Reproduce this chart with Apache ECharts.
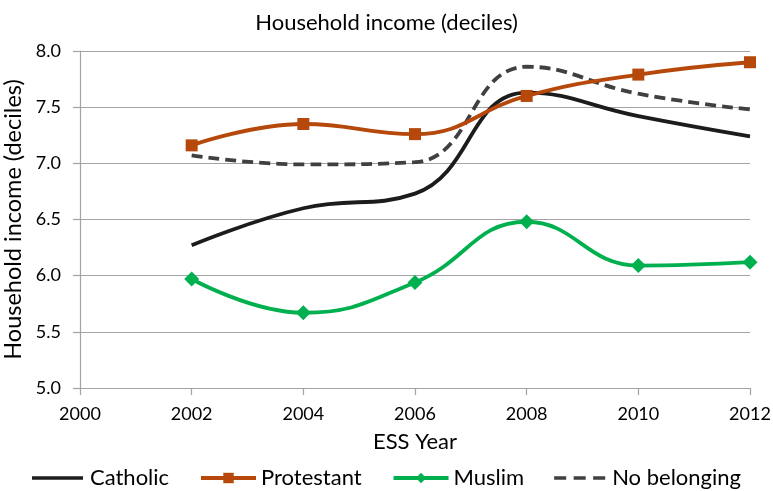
<!DOCTYPE html>
<html>
<head>
<meta charset="utf-8">
<script src="https://cdn.jsdelivr.net/npm/echarts@6/dist/echarts.min.js"></script>
<style>
  html, body { margin: 0; padding: 0; background: #fff; }
  #chart { width: 773px; height: 491px; }
</style>
</head>
<body>
<div id="chart"></div>
<script>
// ESS survey rounds and mean household income decile by religious belonging
var years = [2002, 2004, 2006, 2008, 2010, 2012];
var catholic = [6.27, 6.60, 6.73, 7.63, 7.42, 7.24];
var protestant = [7.16, 7.35, 7.26, 7.60, 7.79, 7.90];
var muslim = [5.97, 5.67, 5.94, 6.48, 6.09, 6.12];
var noBelonging = [7.07, 6.99, 7.01, 7.86, 7.62, 7.48];

function pairs(vals) {
  return years.map(function (y, i) { return [y, vals[i]]; });
}

var font = 'Lato, "Open Sans", sans-serif';
var gridGray = '#a3a3a3';
var colCatholic = '#1c1c1c', colProtestant = '#b5480a', colMuslim = '#00b04f', colNone = '#404040';
var lineW = 3.8;

// legend strokes for the marker-less series, drawn in a 55x14 box
// (the two leading moveTo points pin the box so the stroke keeps its thickness)
var solidIcon = 'path://M0,0M55,14M0,5.1h55v3.8H0z';
var dashIcon = 'path://M0,0M55,14M0,5.1h13v3.8H0zM21,5.1h13v3.8h-13zM42,5.1h13v3.8h-13z';

var chart = echarts.init(document.getElementById('chart'));
chart.setOption({
  animation: false,
  title: {
    text: 'Household income (deciles)',
    left: 'center',
    top: 7,
    textStyle: { fontFamily: font, fontSize: 22, fontWeight: 'normal', color: '#000' }
  },
  legend: {
    top: 462,
    left: 'center',
    itemWidth: 55,
    itemHeight: 13,
    itemGap: 30,
    lineStyle: { width: lineW },
    textStyle: { fontFamily: font, fontSize: 22, color: '#000' },
    data: [
      { name: 'Catholic', icon: solidIcon },
      { name: 'Protestant' },
      { name: 'Muslim' },
      { name: 'No belonging', icon: dashIcon }
    ]
  },
  grid: { left: 80, right: 23, top: 51, bottom: 103, outerBoundsMode: 'none', containLabel: false },
  xAxis: {
    type: 'value',
    min: 2000,
    max: 2012,
    interval: 2,
    name: 'ESS Year',
    nameLocation: 'middle',
    nameGap: 43,
    nameTextStyle: { fontFamily: font, fontSize: 22, color: '#000' },
    axisLine: { lineStyle: { color: gridGray, width: 1.2 } },
    axisTick: { show: true, length: 7, lineStyle: { color: gridGray, width: 1.2 } },
    axisLabel: {
      fontFamily: font, fontSize: 18, color: '#000', margin: 17,
      formatter: function (v) { return String(v); }
    },
    splitLine: { show: false }
  },
  yAxis: {
    type: 'value',
    min: 5,
    max: 8,
    interval: 0.5,
    name: 'Household income (deciles)',
    nameLocation: 'middle',
    nameGap: 51,
    nameTextStyle: { fontFamily: font, fontSize: 23.5, color: '#000' },
    axisLine: { show: true, lineStyle: { color: gridGray, width: 1.2 } },
    axisTick: { show: true, length: 7, lineStyle: { color: gridGray, width: 1.2 } },
    axisLabel: {
      fontFamily: font, fontSize: 18, color: '#000', margin: 19,
      formatter: function (v) { return v.toFixed(1); }
    },
    splitLine: { lineStyle: { color: gridGray, width: 1.2 } }
  },
  series: [
    {
      name: 'Catholic', type: 'line', smooth: 0.45,
      data: pairs(catholic), symbol: 'none',
      lineStyle: { color: colCatholic, width: lineW },
      itemStyle: { color: colCatholic }, z: 3
    },
    {
      name: 'Protestant', type: 'line', smooth: 0.45,
      data: pairs(protestant), symbol: 'rect', symbolSize: 12,
      lineStyle: { color: colProtestant, width: lineW },
      itemStyle: { color: colProtestant }, z: 4
    },
    {
      name: 'Muslim', type: 'line', smooth: 0.45,
      data: pairs(muslim), symbol: 'diamond', symbolSize: 15,
      lineStyle: { color: colMuslim, width: lineW },
      itemStyle: { color: colMuslim }, z: 3
    },
    {
      name: 'No belonging', type: 'line', smooth: 0.45,
      data: pairs(noBelonging), symbol: 'none',
      lineStyle: { color: colNone, width: lineW, type: [11, 6] },
      itemStyle: { color: colNone }, z: 2
    }
  ]
});
</script>
</body>
</html>
